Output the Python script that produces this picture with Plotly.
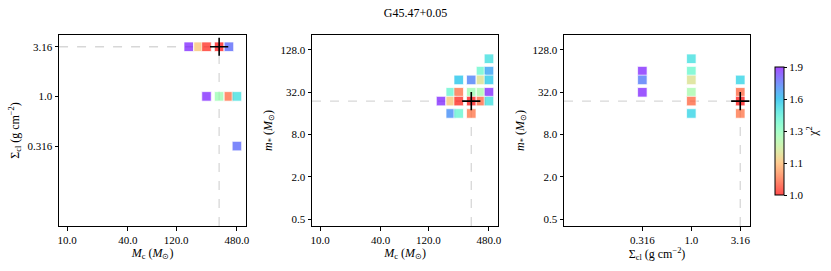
import math
import plotly.graph_objects as go

# ---------------- data ----------------
title_text = "G45.47+0.05"

# best fit model
best_mc = [320.0]
best_sigma = [3.16]
best_mstar = [24.0]

# panel 1: Mc vs Sigma_cl
p1_mc = [160, 200, 240, 320, 400, 240, 320, 400, 480, 480]
p1_sigma = [3.16, 3.16, 3.16, 3.16, 3.16, 1.0, 1.0, 1.0, 1.0, 0.316]
p1_chi2 = [1.88, 1.24, 1.03, 1.0, 1.80, 1.88, 1.42, 1.11, 1.60, 1.80]

# panel 2: Mc vs m*
p2_mc = [480, 400, 480, 240, 320, 400, 480, 200, 240, 320, 400, 480,
         160, 200, 240, 320, 400, 480, 200, 240, 320]
p2_mstar = [96, 64, 64, 48, 48, 48, 48, 32, 32, 32, 32, 32,
            24, 24, 24, 24, 24, 24, 16, 16, 16]
p2_chi2 = [1.60, 1.52, 1.72, 1.66, 1.77, 1.30, 1.65, 1.53, 1.11, 1.42, 1.40, 1.88,
           1.88, 1.24, 1.02, 1.0, 1.10, 1.60, 1.75, 1.53, 1.12]

# panel 3: Sigma_cl vs m*
p3_sigma = [0.316, 0.316, 0.316, 1.0, 1.0, 1.0, 1.0, 1.0, 1.0, 3.16, 3.16, 3.16, 3.16]
p3_mstar = [64, 48, 32, 96, 64, 48, 32, 24, 16, 48, 32, 24, 16]
p3_chi2 = [1.88, 1.78, 1.88, 1.60, 1.52, 1.30, 1.40, 1.10, 1.63, 1.63, 1.10, 1.0, 1.12]

mc_ticks = [10, 40, 120, 480]
mc_ticktext = ["10.0", "40.0", "120.0", "480.0"]
sigma_ticks = [0.316, 1.0, 3.16]
sigma_ticktext = ["0.316", "1.0", "3.16"]
mstar_ticks = [0.5, 2, 8, 32, 128]
mstar_ticktext = ["0.5", "2.0", "8.0", "32.0", "128.0"]
cbar_ticktext = ["1.0", "1.1", "1.3", "1.6", "1.9"]

CMIN, CMAX = 1.0, 1.9

# ---------------- style ----------------
FONT = "Liberation Serif"
W, H = 831, 271
MC_RANGE = [0.92, 2.772]
SIG_RANGE = [-1.30, 0.60]
SIG_RANGE_Y = [-1.305, 0.618]
MS_RANGE = [-0.396, 2.32]


def rainbow(s):
    r = min(1.0, abs(2 * s - 0.5))
    g = math.sin(math.pi * s)
    b = math.cos(math.pi * s / 2)
    return r, g, b


ALPHA = 0.7
colorscale = []
N = 20
for i in range(N + 1):
    t = i / N
    r, g, b = rainbow(1 - t)
    colorscale.append([t, f"rgba({int(r*255)},{int(g*255)},{int(b*255)},{ALPHA})"])

fig = go.Figure()


def px_dom(a, b, total):
    return [a / total, b / total]


xd = [px_dom(60, 250, W), px_dom(317, 506, W), px_dom(573, 762, W)]
yd = [(H - 226) / H, (H - 35) / H]

dash_col = "rgba(205,205,205,0.8)"


def add_panel(idx, xs, ys, cs, bx, by, xr, yr, showscale=False, hline_full=False):
    xa = "x" if idx == 1 else f"x{idx}"
    ya = "y" if idx == 1 else f"y{idx}"
    xmin = 10 ** xr[0]
    xmax = 10 ** xr[1]
    ymin = 10 ** yr[0]
    fig.add_trace(go.Scatter(x=[xmin, xmax if hline_full else bx[0]], y=[by[0], by[0]],
                             mode="lines", line=dict(color=dash_col, width=1.3, dash="dash"),
                             xaxis=xa, yaxis=ya, showlegend=False, hoverinfo="skip"))
    fig.add_trace(go.Scatter(x=[bx[0], bx[0]], y=[ymin, by[0]],
                             mode="lines", line=dict(color=dash_col, width=1.3, dash="dash"),
                             xaxis=xa, yaxis=ya, showlegend=False, hoverinfo="skip"))
    marker = dict(symbol="square", size=9.5, color=cs, colorscale=colorscale,
                  cmin=CMIN, cmax=CMAX, line=dict(width=0.8, color="rgba(255,255,255,0.9)"))
    if showscale:
        marker.update(showscale=True, colorbar=dict(
            x=777 / W, xanchor="left", thickness=9, len=148 / H, lenmode="fraction",
            y=(H - 131) / H, yanchor="middle",
            outlinewidth=1, outlinecolor="black",
            tickvals=[CMIN + k * (CMAX - CMIN) / 4 for k in range(5)],
            ticktext=cbar_ticktext, ticks="outside", ticklen=3, tickcolor="black",
            tickfont=dict(family=FONT, size=11, color="black"),
            title=dict(text="χ<sup>2</sup>", side="right",
                       font=dict(family=FONT, size=12, color="black"))))
    fig.add_trace(go.Scatter(x=xs, y=ys, mode="markers", marker=marker,
                             xaxis=xa, yaxis=ya, showlegend=False))
    fig.add_trace(go.Scatter(x=bx, y=by, mode="markers",
                             marker=dict(symbol="cross-thin", size=13,
                                         line=dict(width=1.6, color="black")),
                             xaxis=xa, yaxis=ya, showlegend=False))


add_panel(1, p1_mc, p1_sigma, p1_chi2, best_mc, best_sigma, MC_RANGE, SIG_RANGE_Y)
add_panel(2, p2_mc, p2_mstar, p2_chi2, best_mc, best_mstar, MC_RANGE, MS_RANGE)
add_panel(3, p3_sigma, p3_mstar, p3_chi2, best_sigma, best_mstar, SIG_RANGE, MS_RANGE,
          showscale=True, hline_full=True)

axis_common = dict(type="log", showline=True, mirror=True, linecolor="black", linewidth=1,
                   ticks="outside", ticklen=3.5, tickcolor="black", showgrid=False,
                   zeroline=False, tickfont=dict(family=FONT, size=11, color="black"),
                   automargin=False)

mc_title = "<i>M</i><sub>c</sub> (<i>M</i><sub>⊙</sub>)"
sig_title = "Σ<sub>cl</sub> (g cm<sup>−2</sup>)"
ms_title = "<i>m</i><sub>*</sub> (<i>M</i><sub>⊙</sub>)"
tfont = dict(family=FONT, size=12, color="black")

fig.update_layout(
    width=W, height=H, margin=dict(l=0, r=0, t=0, b=0),
    plot_bgcolor="white", paper_bgcolor="white", showlegend=False,
    xaxis=dict(axis_common, domain=xd[0], range=MC_RANGE, tickvals=mc_ticks, ticktext=mc_ticktext,
               anchor="y", title=dict(text=mc_title, font=tfont, standoff=3)),
    yaxis=dict(axis_common, domain=yd, range=SIG_RANGE_Y, tickvals=sigma_ticks, ticktext=sigma_ticktext,
               anchor="x", title=dict(text=sig_title, font=tfont, standoff=5)),
    xaxis2=dict(axis_common, domain=xd[1], range=MC_RANGE, tickvals=mc_ticks, ticktext=mc_ticktext,
                anchor="y2", title=dict(text=mc_title, font=tfont, standoff=3)),
    yaxis2=dict(axis_common, domain=yd, range=MS_RANGE, tickvals=mstar_ticks, ticktext=mstar_ticktext,
                anchor="x2", title=dict(text=ms_title, font=tfont, standoff=5)),
    xaxis3=dict(axis_common, domain=xd[2], range=SIG_RANGE, tickvals=sigma_ticks, ticktext=sigma_ticktext,
                anchor="y3", title=dict(text=sig_title, font=tfont, standoff=3)),
    yaxis3=dict(axis_common, domain=yd, range=MS_RANGE, tickvals=mstar_ticks, ticktext=mstar_ticktext,
                anchor="x3", title=dict(text=ms_title, font=tfont, standoff=5)),
    title=dict(text=title_text, x=0.5, xanchor="center", y=1 - 13 / H, yanchor="middle",
               font=dict(family=FONT, size=12, color="black")),
)

fig.write_html("out.html", config={"displayModeBar": False},
               post_script="document.body.style.margin='0';")
